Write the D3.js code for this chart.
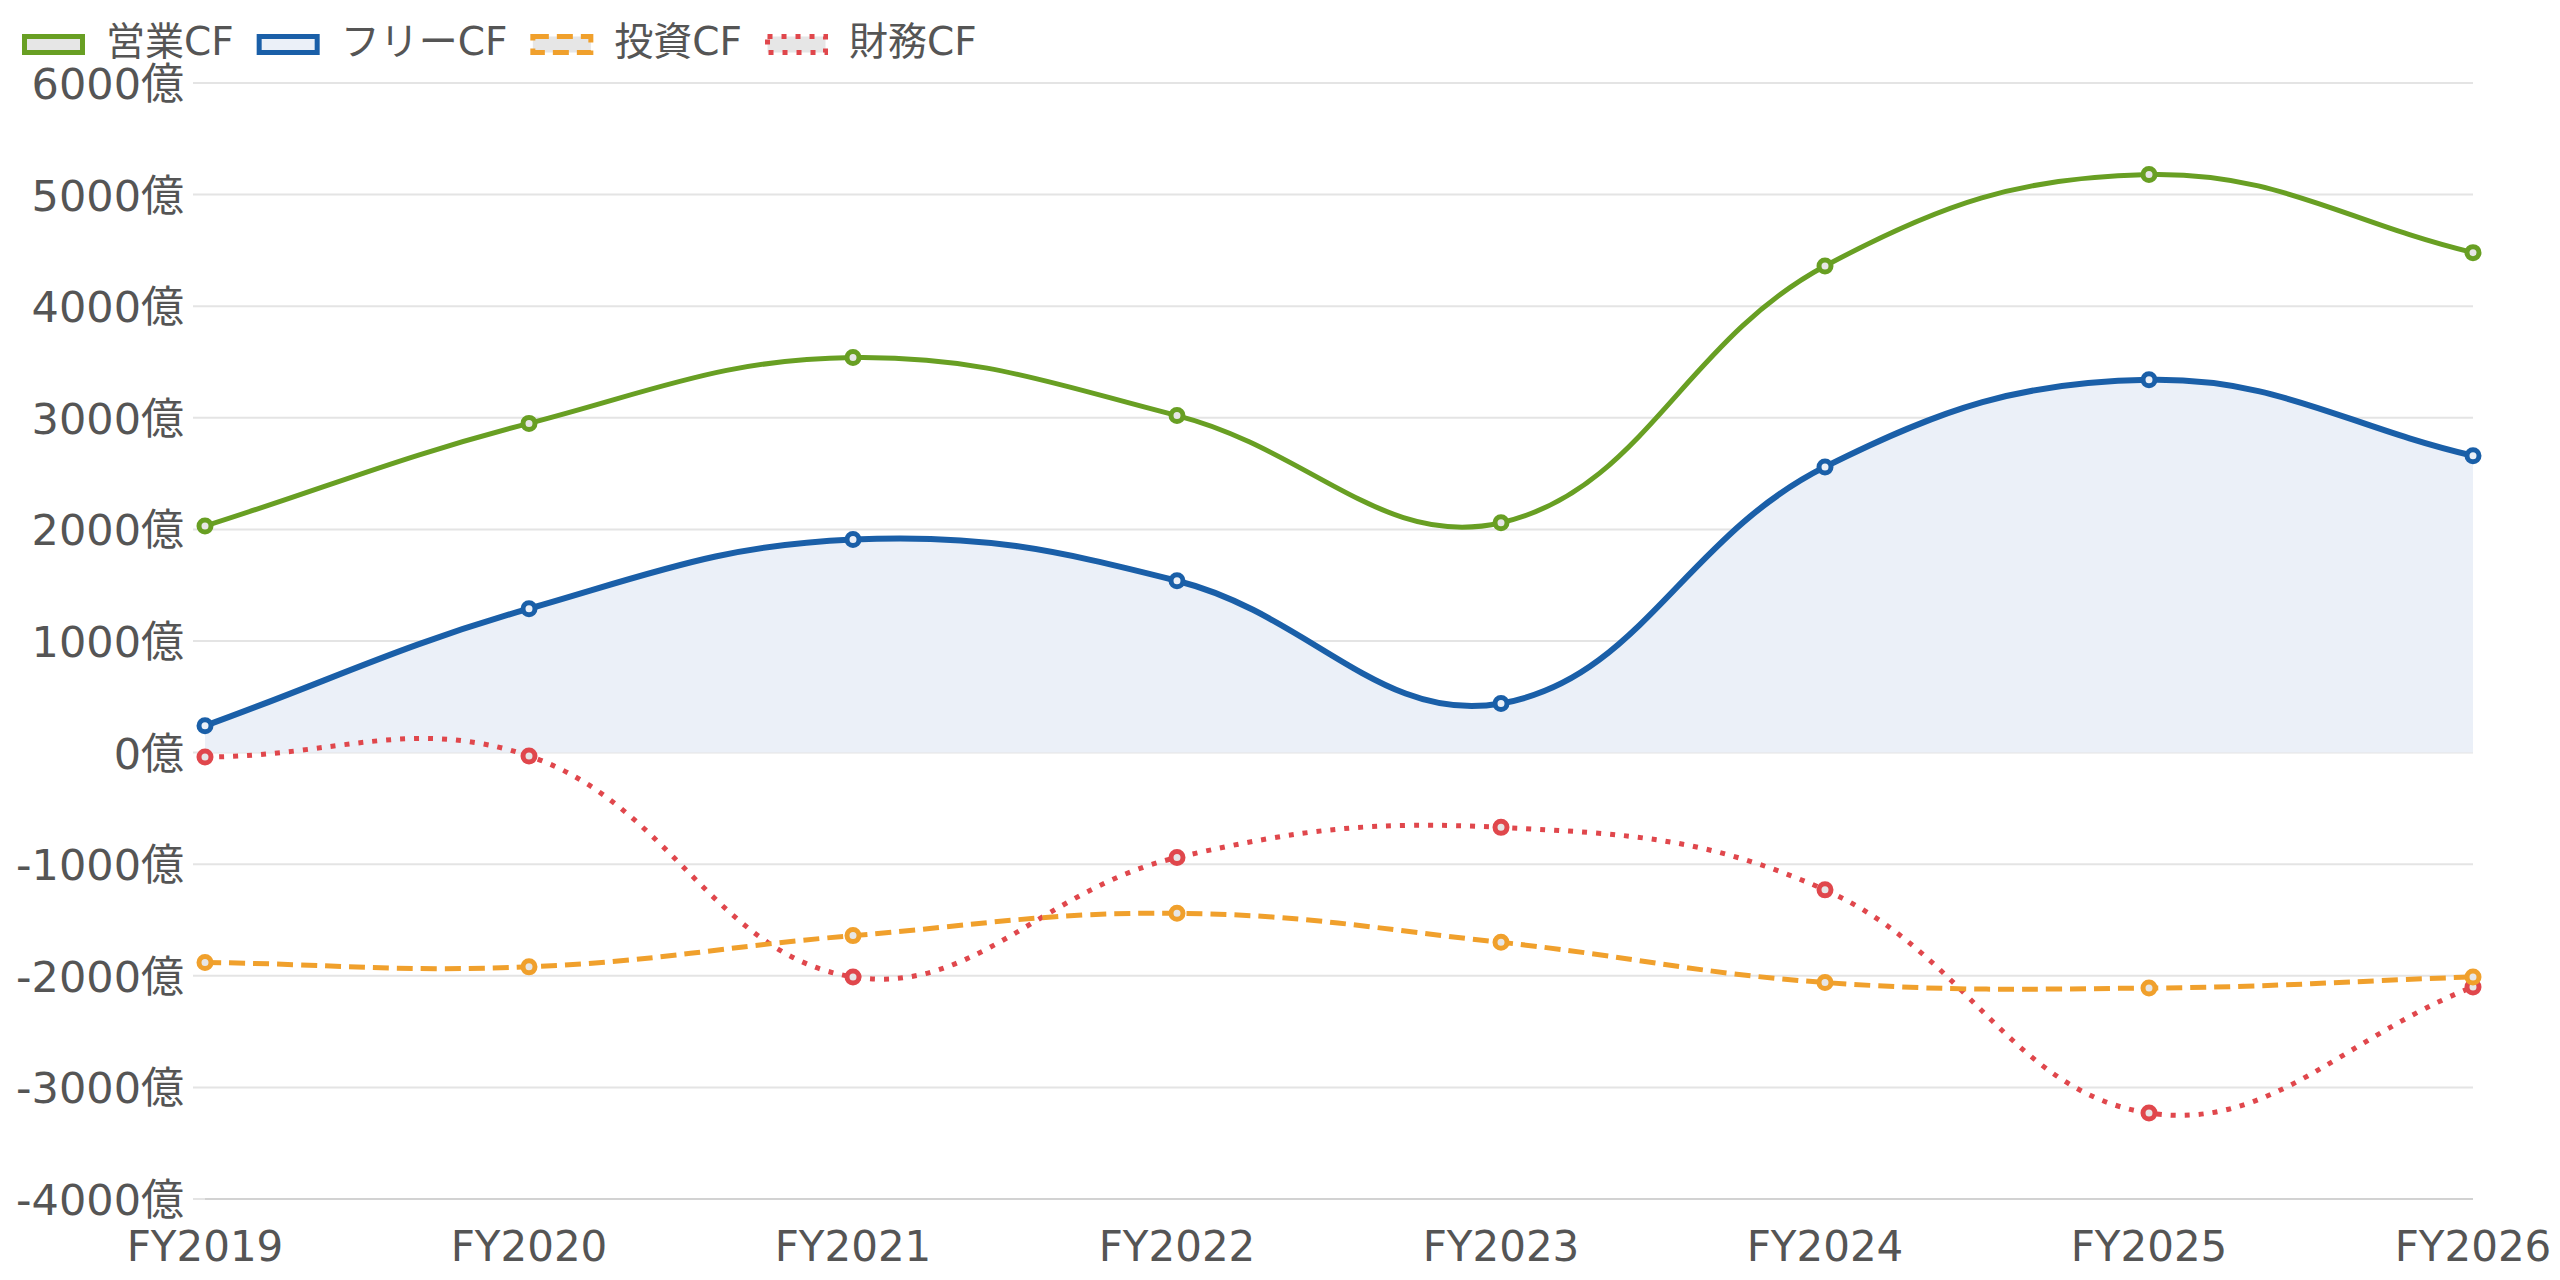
<!DOCTYPE html>
<html>
<head>
<meta charset="utf-8">
<script src="https://cdn.jsdelivr.net/npm/d3@7"></script>
<style>
  html, body { margin: 0; padding: 0; background: #fff; }
  svg { display: block; }
  text { font-family: "DejaVu Sans", "Noto Sans CJK JP", sans-serif; fill: #555; }
</style>
</head>
<body>
<svg id="chart" width="2560" height="1280"></svg>
<script>
// categories and series (億円)
const years = ["FY2019", "FY2020", "FY2021", "FY2022", "FY2023", "FY2024", "FY2025", "FY2026"];
const opCF = [2030, 2950, 3540, 3020, 2060, 4360, 5180, 4480];
const freeCF = [240, 1290, 1910, 1540, 440, 2560, 3340, 2660];
const invCF = [-1880, -1920, -1640, -1440, -1700, -2060, -2110, -2010];
const finCF = [-40, -30, -2010, -940, -670, -1230, -3230, -2100];
const yTicks = [6000, 5000, 4000, 3000, 2000, 1000, 0, -1000, -2000, -3000, -4000];

const series = [
  { name: "営業CF", values: opCF, color: "#689f23", bg: "#e6e6e6", width: 5, dash: null },
  { name: "フリーCF", values: freeCF, color: "#1a5fa8", bg: "#ebf0f8", width: 6, dash: null, fill: true },
  { name: "投資CF", values: invCF, color: "#f0a02c", bg: "#e6e6e6", width: 5, dash: "16,8" },
  { name: "財務CF", values: finCF, color: "#e0474c", bg: "#e6e6e6", width: 5, dash: "5,9" }
];

const svg = d3.select("#chart");
const plotLeft = 205, plotRight = 2473, plotTop = 83, plotBottom = 1199;

const x = d3.scalePoint().domain(years).range([plotLeft, plotRight]);
const y = d3.scaleLinear().domain([-4000, 6000]).range([plotBottom, plotTop]);

// grid lines
svg.append("g")
  .selectAll("line")
  .data(yTicks)
  .join("line")
  .attr("x1", plotLeft - 12)
  .attr("x2", plotRight)
  .attr("y1", function (d) { return y(d); })
  .attr("y2", function (d) { return y(d); })
  .attr("stroke", "#e4e4e4")
  .attr("stroke-width", 2);

// bottom axis border
svg.append("line")
  .attr("x1", plotLeft).attr("x2", plotRight)
  .attr("y1", y(-4000)).attr("y2", y(-4000))
  .attr("stroke", "#d2d2d2").attr("stroke-width", 2);

// y tick labels
svg.append("g")
  .selectAll("text")
  .data(yTicks)
  .join("text")
  .attr("x", 184)
  .attr("y", function (d) { return y(d) + 16; })
  .attr("text-anchor", "end")
  .style("font-size", "43px")
  .text(function (d) { return d + "億"; });

// x tick labels
svg.append("g")
  .selectAll("text")
  .data(years)
  .join("text")
  .attr("x", function (d) { return x(d); })
  .attr("y", 1261)
  .attr("text-anchor", "middle")
  .style("font-size", "42px")
  .text(function (d) { return d; });

// Chart.js style spline (tension 0.4)
function splinePath(pts, t) {
  const cps = pts.map(function (p, i) {
    const prev = pts[Math.max(i - 1, 0)];
    const next = pts[Math.min(i + 1, pts.length - 1)];
    const d01 = Math.hypot(p[0] - prev[0], p[1] - prev[1]);
    const d12 = Math.hypot(next[0] - p[0], next[1] - p[1]);
    let s01 = d01 / (d01 + d12);
    let s12 = d12 / (d01 + d12);
    if (isNaN(s01)) s01 = 0;
    if (isNaN(s12)) s12 = 0;
    const fa = t * s01, fb = t * s12;
    return {
      c1: [p[0] - fa * (next[0] - prev[0]), p[1] - fa * (next[1] - prev[1])],
      c2: [p[0] + fb * (next[0] - prev[0]), p[1] + fb * (next[1] - prev[1])]
    };
  });
  const path = d3.path();
  path.moveTo(pts[0][0], pts[0][1]);
  for (let i = 1; i < pts.length; i++) {
    const a = cps[i - 1].c2, b = cps[i].c1;
    path.bezierCurveTo(a[0], a[1], b[0], b[1], pts[i][0], pts[i][1]);
  }
  return path.toString();
}

// area fill for free CF down to zero
series.filter(function (s) { return s.fill; }).forEach(function (s) {
  const pts = s.values.map(function (v, i) { return [x(years[i]), y(v)]; });
  const d = splinePath(pts, 0.4) + "L" + plotRight + "," + y(0) + "L" + plotLeft + "," + y(0) + "Z";
  svg.append("path").attr("d", d).attr("fill", s.bg);
});

// lines, drawn last dataset first so first is on top
const ordered = series.slice().reverse();
ordered.forEach(function (s) {
  const pts = s.values.map(function (v, i) { return [x(years[i]), y(v)]; });
  svg.append("path")
    .attr("d", splinePath(pts, 0.4))
    .attr("fill", "none")
    .attr("stroke", s.color)
    .attr("stroke-width", s.width)
    .attr("stroke-dasharray", s.dash);
});

ordered.forEach(function (s) {
  svg.append("g")
    .selectAll("circle")
    .data(s.values)
    .join("circle")
    .attr("cx", function (d, i) { return x(years[i]); })
    .attr("cy", function (d) { return y(d); })
    .attr("r", 6)
    .attr("fill", s.bg)
    .attr("stroke", s.color)
    .attr("stroke-width", 5);
});

// legend
const legend = svg.append("g");
let lx = 22;
series.forEach(function (s) {
  legend.append("rect")
    .attr("x", lx + 2.5).attr("y", 36.5)
    .attr("width", 58).attr("height", 16)
    .attr("fill", s.bg)
    .attr("stroke", s.color)
    .attr("stroke-width", 5)
    .attr("stroke-dasharray", s.dash);
  const t = legend.append("text")
    .attr("x", lx + 84)
    .attr("y", 55)
    .style("font-size", "39px")
    .text(s.name);
  lx = lx + 84 + t.node().getComputedTextLength() + 23;
});
</script>
</body>
</html>
